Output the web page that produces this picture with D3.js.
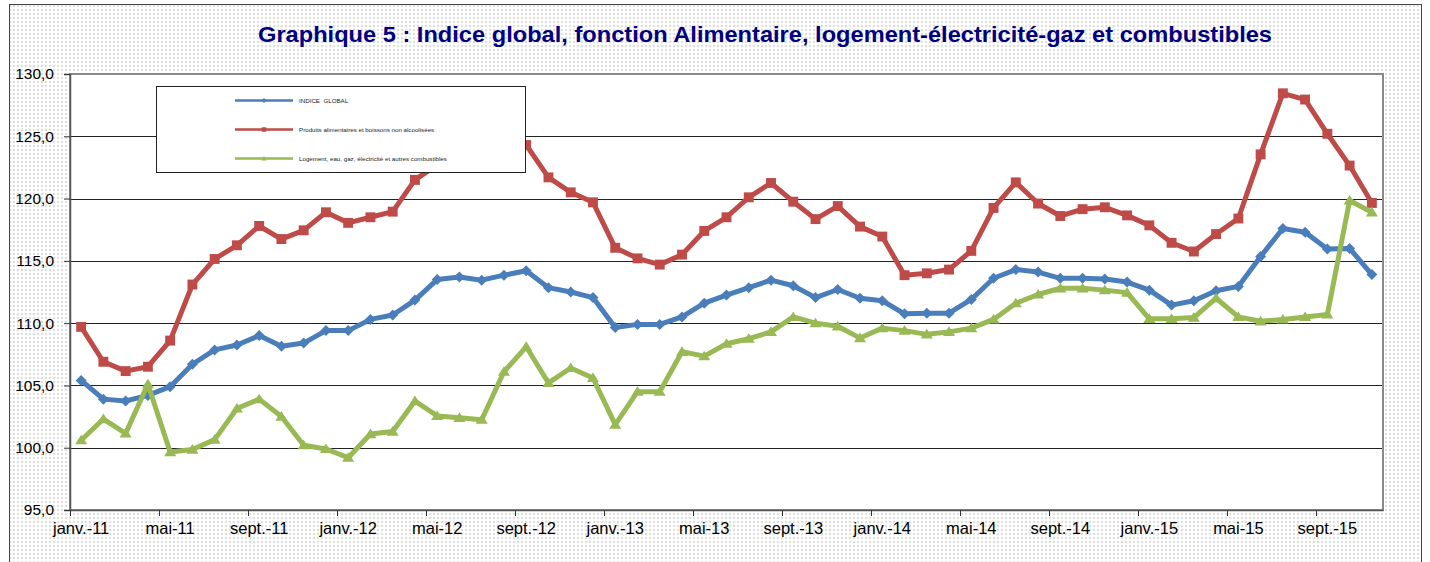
<!DOCTYPE html>
<html><head><meta charset="utf-8">
<script src="https://cdn.jsdelivr.net/npm/d3@7"></script>
<style>html,body{margin:0;padding:0;background:#fff}svg{display:block}</style>
</head><body>
<script>
const categories = ["janv.-11","févr.-11","mars-11","avr.-11","mai-11","juin-11","juil.-11","août-11","sept.-11","oct.-11","nov.-11","déc.-11",
"janv.-12","févr.-12","mars-12","avr.-12","mai-12","juin-12","juil.-12","août-12","sept.-12","oct.-12","nov.-12","déc.-12",
"janv.-13","févr.-13","mars-13","avr.-13","mai-13","juin-13","juil.-13","août-13","sept.-13","oct.-13","nov.-13","déc.-13",
"janv.-14","févr.-14","mars-14","avr.-14","mai-14","juin-14","juil.-14","août-14","sept.-14","oct.-14","nov.-14","déc.-14",
"janv.-15","févr.-15","mars-15","avr.-15","mai-15","juin-15","juil.-15","août-15","sept.-15","oct.-15","nov.-15"];

const indiceGlobal = [105.4,103.9,103.75,104.2,104.9,106.7,107.85,108.25,109.0,108.15,108.4,109.4,
109.4,110.3,110.65,111.85,113.5,113.7,113.45,113.85,114.2,112.85,112.5,112.05,
109.65,109.9,109.9,110.5,111.6,112.25,112.85,113.45,113.0,112.05,112.7,112.0,
111.8,110.75,110.8,110.8,111.9,113.6,114.3,114.1,113.6,113.6,113.55,113.3,
112.65,111.45,111.8,112.6,112.95,115.35,117.6,117.3,115.95,116.0,113.9];

const alimentaire = [109.7,106.9,106.15,106.5,108.6,113.1,115.15,116.25,117.8,116.75,117.45,118.9,
118.05,118.5,118.95,121.5,122.7,123.4,123.9,124.5,124.3,121.7,120.5,119.7,
116.05,115.2,114.7,115.5,117.4,118.5,120.1,121.25,119.75,118.35,119.4,117.75,
116.95,113.85,114.0,114.3,115.8,119.25,121.3,119.6,118.6,119.15,119.3,118.65,
117.85,116.45,115.75,117.15,118.4,123.55,128.45,127.95,125.2,122.65,119.65];

const logement = [100.6,102.3,101.15,105.1,99.65,99.85,100.65,103.15,103.9,102.5,100.2,99.9,
99.2,101.1,101.3,103.75,102.55,102.4,102.25,106.1,108.1,105.2,106.4,105.6,
101.85,104.5,104.5,107.7,107.35,108.35,108.75,109.3,110.5,110.0,109.75,108.8,
109.6,109.4,109.1,109.3,109.6,110.3,111.6,112.3,112.8,112.8,112.65,112.45,
110.35,110.35,110.45,112.0,110.5,110.15,110.3,110.5,110.7,119.85,118.9];

const seriesNames = ["INDICE  GLOBAL","Produits alimentaires et boissons non alcoolisées","Logement, eau, gaz, électricité et autres combustibles"];
const yTicks = [95,100,105,110,115,120,125,130];
const titleText = "Graphique 5 : Indice global, fonction Alimentaire, logement-électricité-gaz et combustibles";

const W = 1430, H = 562;
const svg = d3.select("body").append("svg").attr("width", W).attr("height", H);

const defs = svg.append("defs");
const pat = defs.append("pattern").attr("id","dots").attr("patternUnits","userSpaceOnUse")
  .attr("width",4).attr("height",4);
pat.append("rect").attr("width",4).attr("height",4).attr("fill","#fff");
pat.append("rect").attr("x",1).attr("y",1).attr("width",2).attr("height",2).attr("fill","#dedede");

svg.append("rect").attr("x",9.5).attr("y",4.5).attr("width",1412).attr("height",H+10)
  .attr("fill","url(#dots)").attr("stroke","#444").attr("stroke-width",1);

svg.append("text").attr("x",765).attr("y",42).attr("text-anchor","middle")
  .attr("font-family","Liberation Sans, Arial, sans-serif").attr("font-weight","bold")
  .attr("font-size",22).attr("fill","#000080")
  .attr("textLength",1014).attr("lengthAdjust","spacingAndGlyphs").text(titleText);

const L = 70, R = 1383, T = 74, B = 510;
const x = d3.scaleBand().domain(categories).range([L, R]).paddingInner(0).paddingOuter(0);
const y = d3.scaleLinear().domain([95,130]).range([B, T]);
const bw = x.bandwidth();
const cx = c => x(c) + bw/2;

svg.append("rect").attr("x",L).attr("y",T).attr("width",R-L).attr("height",B-T).attr("fill","#fff");

// gridlines
svg.append("g").selectAll("line").data(yTicks.filter(v=>v>95 && v<130)).join("line")
  .attr("x1",L).attr("x2",R).attr("y1",d=>Math.round(y(d))+0.5).attr("y2",d=>Math.round(y(d))+0.5)
  .attr("stroke","#222").attr("stroke-width",1);

// plot border
svg.append("rect").attr("x",L).attr("y",T).attr("width",R-L).attr("height",B-T)
  .attr("fill","none").attr("stroke","#8a8a8a").attr("stroke-width",2);

const fmt = d3.formatLocale({decimal:",",thousands:" ",grouping:[3],currency:["","€"]}).format(".1f");

// y axis
const yAxis = svg.append("g").attr("transform",`translate(${L},0)`)
  .call(d3.axisLeft(y).tickValues(yTicks).tickSize(6).tickPadding(10).tickFormat(fmt));
yAxis.select(".domain").attr("stroke","#555").attr("stroke-width",1.5);
yAxis.selectAll(".tick line").attr("stroke","#333");
yAxis.selectAll("text").attr("font-family","Liberation Sans, Arial, sans-serif").attr("font-size",15.5).attr("fill","#000");

// x axis: labels every 4 categories, ticks at band starts
const labelCats = categories.filter((c,i)=>i%4===0);
const xAxis = svg.append("g").attr("transform",`translate(0,${B})`)
  .call(d3.axisBottom(x).tickValues(labelCats).tickSize(0).tickPadding(12));
xAxis.select(".domain").attr("stroke","#555").attr("stroke-width",1.5);
xAxis.selectAll("text").attr("font-family","Liberation Sans, Arial, sans-serif").attr("font-size",16.5).attr("fill","#000");
svg.append("g").selectAll("line").data(labelCats).join("line")
  .attr("x1",d=>Math.round(x(d))+0.5).attr("x2",d=>Math.round(x(d))+0.5)
  .attr("y1",B).attr("y2",B+6).attr("stroke","#333");

const series = [
  {name:seriesNames[0], values:indiceGlobal, color:"#4A7EBB", marker:"diamond"},
  {name:seriesNames[1], values:alimentaire, color:"#BE4B48", marker:"square"},
  {name:seriesNames[2], values:logement, color:"#98B954", marker:"triangle"}
];

function markerPath(type, s){
  if(type==="diamond") return `M0,${-s}L${s},0L0,${s}L${-s},0Z`;
  if(type==="square") return `M${-s*0.9},${-s*0.9}h${s*1.8}v${s*1.8}h${-s*1.8}Z`;
  return `M0,${-s}L${s*1.1},${s*0.75}L${-s*1.1},${s*0.75}Z`;
}

const line = d3.line().x((d,i)=>cx(categories[i])).y(d=>y(d));
series.forEach(s=>{
  const g = svg.append("g");
  g.append("path").datum(s.values).attr("d",line).attr("fill","none")
    .attr("stroke",s.color).attr("stroke-width",5).attr("stroke-linejoin","round");
  g.selectAll("path.m").data(s.values).join("path").attr("class","m")
    .attr("transform",(d,i)=>`translate(${cx(categories[i])},${y(d)})`)
    .attr("d",markerPath(s.marker,5.5)).attr("fill",s.color);
});

// legend
const lg = svg.append("g");
lg.append("rect").attr("x",156.5).attr("y",86.5).attr("width",369).attr("height",86)
  .attr("fill","#fff").attr("stroke","#222").attr("stroke-width",1);
const ly = [100.5, 129.5, 158.5];
series.forEach((s,i)=>{
  lg.append("line").attr("x1",235).attr("x2",293).attr("y1",ly[i]).attr("y2",ly[i])
    .attr("stroke",s.color).attr("stroke-width",2.5);
  lg.append("path").attr("transform",`translate(264,${ly[i]})`).attr("d",markerPath(s.marker,2.5)).attr("fill",s.color);
  lg.append("text").attr("x",299).attr("y",ly[i]+2).attr("font-family","Liberation Sans, Arial, sans-serif")
    .attr("font-size",6.2).attr("fill","#222").attr("xml:space","preserve").style("white-space","pre").text(s.name);
});
</script>
</body></html>
